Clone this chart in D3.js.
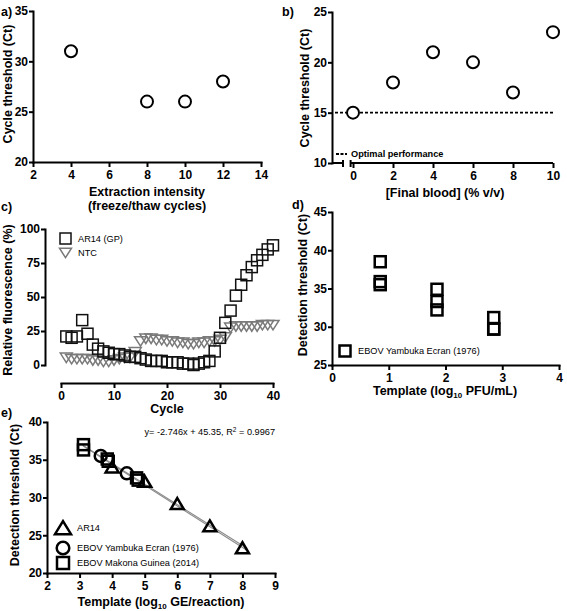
<!DOCTYPE html>
<html><head><meta charset="utf-8">
<script src="https://cdn.jsdelivr.net/npm/d3@7"></script>
<style>
body{margin:0;background:#fff;}
svg{display:block;font-family:"Liberation Sans",Arial,sans-serif;}
.axis path,.axis line{stroke:#000;stroke-width:2;}
.axis text{font-size:12px;font-weight:bold;fill:#000;font-family:"Liberation Sans",Arial,sans-serif;}
.title{font-size:12.5px;font-weight:bold;fill:#000;}
.plabel{font-size:12.5px;font-weight:bold;fill:#000;}
.leg{font-size:9.2px;fill:#000;}
</style></head><body>
<svg id="chart" width="567" height="611"></svg>
<script>
// ---- data ----
// a) extraction intensity
const aX = [4, 8, 10, 12];
const aY = [31, 26, 26, 28];
const aXTicks = [2, 4, 6, 8, 10, 12, 14];
const aYTicks = [20, 25, 30, 35];
// b) final blood
const bX = [0, 2, 4, 6, 8, 10];
const bY = [15, 18, 21, 20, 17, 23];
const bOptimal = 15;
const bXTicks = [0, 2, 4, 6, 8, 10];
const bYTicks = [10, 15, 20, 25];
// c) amplification curves
const cCycles = [1,2,3,4,5,6,7,8,9,10,11,12,13,14,15,16,17,18,19,20,21,22,23,24,25,26,27,28,29,30,31,32,33,34,35,36,37,38,39,40];
const cAR14 = [21,20,21,33,23,15,12,10,9,8,8,7,6,6,5,4,3,3,3,2,2,2,1,1,0,1,2,3,10,20,31,40,51,59,66,72,77,81,85,88];
const cNTC  = [6,5,5,5,5,4,4,3,3,4,5,6,6,10,18,20,20,19,19,18,18,17,17,16,16,17,17,18,18,19,21,28,29,29,29,29,29,30,30,30];
const cXTicks = [0, 10, 20, 30, 40];
const cYTicks = [0, 25, 50, 75, 100];
// d) detection threshold vs PFU
const dX = [0.85, 0.85, 0.85, 1.85, 1.85, 1.85, 2.85, 2.85, 2.85];
const dY = [38.5, 35.9, 35.5, 34.9, 33.3, 32.2, 31.2, 29.7, 29.7];
const dXTicks = [0, 1, 2, 3, 4];
const dYTicks = [25, 30, 35, 40, 45];
// e) standard curve
const eAR14X = [4, 5, 6, 7, 8];
const eAR14Y = [33.9, 32.0, 29.05, 26.1, 23.2];
const eYambX = [3.65, 4.45];
const eYambY = [35.5, 33.2];
const eMakX = [3.12, 3.12, 3.88, 3.85, 4.75, 4.8];
const eMakY = [37.0, 36.3, 34.8, 35.1, 32.6, 32.3];
const eFitSlopes = [-2.746, -2.71];
const eFitIntercepts = [45.35, 45.32];
const eFitRange = [3.1, 8.15];
const eXTicks = [2, 3, 4, 5, 6, 7, 8, 9];
const eYTicks = [20, 25, 30, 35, 40];

const svg = d3.select('#chart');
const fmt = d3.format('d');

function addAxis(axis, tx, ty) {
  const g = svg.append('g').attr('class', 'axis')
    .attr('transform', `translate(${tx},${ty})`).call(axis.tickFormat(fmt));
  g.select('.domain').attr('stroke-linecap', 'square');
  return g;
}
function yTitle(txt, x, y) {
  svg.append('text').attr('class', 'title')
    .attr('transform', `translate(${x},${y}) rotate(-90)`)
    .attr('text-anchor', 'middle').attr('dominant-baseline', 'central').text(txt);
}
function xTitle(txt, x, y) {
  return svg.append('text').attr('class', 'title').attr('x', x).attr('y', y)
    .attr('text-anchor', 'middle').attr('dominant-baseline', 'central').text(txt);
}
function pLabel(txt, x, y) {
  svg.append('text').attr('class', 'plabel').attr('x', x).attr('y', y)
    .attr('dominant-baseline', 'central').text(txt);
}
const triUp = (w, h) => `M0,${-h*0.6}L${w/2},${h*0.4}L${-w/2},${h*0.4}Z`;
const triDown = (w, h) => `M0,${h*0.6}L${w/2},${-h*0.4}L${-w/2},${-h*0.4}Z`;

// ---------- a) ----------
{
  const x = d3.scaleLinear([2, 14], [33, 261]);
  const y = d3.scaleLinear([20, 35], [162, 11]);
  addAxis(d3.axisBottom(x).tickValues(aXTicks).tickSize(5).tickSizeOuter(0), 0, 162);
  addAxis(d3.axisLeft(y).tickValues(aYTicks).tickSize(4).tickPadding(1).tickSizeOuter(0), 33, 0);
  svg.append('g').selectAll('circle').data(aX).join('circle')
    .attr('cx', (d) => x(d)).attr('cy', (d, i) => y(aY[i])).attr('r', 6)
    .attr('fill', '#fff').attr('stroke', '#000').attr('stroke-width', 2);
  xTitle('Extraction intensity', 147, 192);
  xTitle('(freeze/thaw cycles)', 147, 206);
  yTitle('Cycle threshold (Ct)', 8, 84);
  pLabel('a)', 1, 12);
}

// ---------- b) ----------
{
  const x = d3.scaleLinear([0, 10], [353, 553]);
  const y = d3.scaleLinear([10, 25], [163, 12]);
  const xMin = -1.05;
  const gx = addAxis(d3.axisBottom(x).tickValues(bXTicks).tickSize(5).tickSizeOuter(0), 0, 163);
  gx.select('.domain').remove();
  const segs = [[xMin, -0.5], [-0.12, 10]];
  segs.forEach(s => {
    gx.append('line').attr('x1', x(s[0])).attr('x2', x(s[1])).attr('y1', 0).attr('y2', 0)
      .attr('stroke', '#000').attr('stroke-width', 2);
  });
  [-0.5, -0.12].forEach(v => {
    gx.append('line').attr('x1', x(v)).attr('x2', x(v)).attr('y1', -3).attr('y2', 4)
      .attr('stroke', '#000').attr('stroke-width', 2);
  });
  addAxis(d3.axisLeft(y).tickValues(bYTicks).tickSize(4).tickPadding(1).tickSizeOuter(0), x(xMin), 0);
  svg.append('line').attr('x1', x(-0.9)).attr('x2', x(10.1))
    .attr('y1', y(bOptimal)).attr('y2', y(bOptimal))
    .attr('stroke', '#000').attr('stroke-width', 1.8).attr('stroke-dasharray', '3,2');
  svg.append('g').selectAll('circle').data(bX).join('circle')
    .attr('cx', (d) => x(d)).attr('cy', (d, i) => y(bY[i])).attr('r', 6)
    .attr('fill', '#fff').attr('stroke', '#000').attr('stroke-width', 2);
  // legend
  svg.append('line').attr('x1', 336).attr('x2', 347).attr('y1', 154).attr('y2', 154)
    .attr('stroke', '#000').attr('stroke-width', 1.8).attr('stroke-dasharray', '3,1.5');
  svg.append('text').attr('x', 351).attr('y', 154).attr('dominant-baseline', 'central')
    .attr('font-size', '9.2px').attr('font-weight', 'bold').text('Optimal performance');
  xTitle('[Final blood] (% v/v)', 445, 193);
  yTitle('Cycle threshold (Ct)', 305, 88);
  pLabel('b)', 282, 12);
}

// ---------- c) ----------
{
  const x = d3.scaleLinear([0, 40], [61, 273]);
  const y = d3.scaleLinear([0, 100], [365, 229]);
  addAxis(d3.axisBottom(x).tickValues(cXTicks).tickSize(5).tickSizeOuter(0), 0, 383);
  addAxis(d3.axisLeft(y).tickValues(cYTicks).tickSize(4).tickPadding(1).tickSizeOuter(0), 45, 0);
  svg.append('g').selectAll('path').data(cCycles).join('path')
    .attr('transform', (d, i) => `translate(${x(d)},${y(cNTC[i])})`)
    .attr('d', triDown(12, 9.5)).attr('fill', 'none').attr('stroke', '#7a7a7a').attr('stroke-width', 1.5);
  svg.append('g').selectAll('rect').data(cCycles).join('rect')
    .attr('x', (d) => x(d) - 5.5).attr('y', (d, i) => y(cAR14[i]) - 5.5)
    .attr('width', 11).attr('height', 11)
    .attr('fill', 'none').attr('stroke', '#111').attr('stroke-width', 1.5);
  // legend
  svg.append('rect').attr('x', 60).attr('y', 233).attr('width', 11).attr('height', 11)
    .attr('fill', 'none').attr('stroke', '#111').attr('stroke-width', 1.5);
  svg.append('text').attr('class', 'leg').attr('x', 78).attr('y', 238.5).attr('dominant-baseline', 'central').text('AR14 (GP)');
  svg.append('path').attr('transform', 'translate(65.5,252)').attr('d', triDown(12, 9.5))
    .attr('fill', 'none').attr('stroke', '#7a7a7a').attr('stroke-width', 1.5);
  svg.append('text').attr('class', 'leg').attr('x', 78).attr('y', 252.5).attr('dominant-baseline', 'central').text('NTC');
  xTitle('Cycle', 167, 409);
  yTitle('Relative fluorescence (%)', 8, 300);
  pLabel('c)', 1, 207);
}

// ---------- d) ----------
{
  const x = d3.scaleLinear([0, 4], [332, 559]);
  const y = d3.scaleLinear([25, 45], [365, 212]);
  addAxis(d3.axisBottom(x).tickValues(dXTicks).tickSize(5).tickSizeOuter(0), 0, 365);
  addAxis(d3.axisLeft(y).tickValues(dYTicks).tickSize(4).tickPadding(1).tickSizeOuter(0), 332, 0);
  svg.append('g').selectAll('rect').data(dX).join('rect')
    .attr('x', (d) => x(d) - 5.5).attr('y', (d, i) => y(dY[i]) - 5.5)
    .attr('width', 11).attr('height', 11)
    .attr('fill', 'none').attr('stroke', '#000').attr('stroke-width', 2.5);
  svg.append('rect').attr('x', 339.5).attr('y', 345.5).attr('width', 11).attr('height', 11)
    .attr('fill', 'none').attr('stroke', '#000').attr('stroke-width', 2.5);
  svg.append('text').attr('class', 'leg').attr('x', 358).attr('y', 351).attr('dominant-baseline', 'central')
    .text('EBOV Yambuka Ecran (1976)');
  const t = xTitle('', 445, 391);
  t.append('tspan').text('Template (log');
  t.append('tspan').attr('font-size', '8px').attr('dy', 4).text('10');
  t.append('tspan').attr('dy', -4).text(' PFU/mL)');
  yTitle('Detection threshold (Ct)', 303, 285);
  pLabel('d)', 292, 205);
}

// ---------- e) ----------
{
  const x = d3.scaleLinear([2, 9], [47, 275]);
  const y = d3.scaleLinear([20, 40], [573, 422]);
  addAxis(d3.axisBottom(x).tickValues(eXTicks).tickSize(5).tickSizeOuter(0), 0, 573);
  addAxis(d3.axisLeft(y).tickValues(eYTicks).tickSize(4).tickPadding(1).tickSizeOuter(0), 47, 0);
  // regression lines
  eFitSlopes.forEach((m, k) => {
    const b = eFitIntercepts[k];
    svg.append('line')
      .attr('x1', x(eFitRange[0])).attr('y1', y(m * eFitRange[0] + b))
      .attr('x2', x(eFitRange[1])).attr('y2', y(m * eFitRange[1] + b))
      .attr('stroke', '#8a8a8a').attr('stroke-width', 1.1);
  });
  svg.append('g').selectAll('rect').data(eMakX).join('rect')
    .attr('x', (d) => x(d) - 5.5).attr('y', (d, i) => y(eMakY[i]) - 5.5)
    .attr('width', 11).attr('height', 11)
    .attr('fill', 'none').attr('stroke', '#000').attr('stroke-width', 2.5);
  svg.append('g').selectAll('circle').data(eYambX).join('circle')
    .attr('cx', (d) => x(d)).attr('cy', (d, i) => y(eYambY[i])).attr('r', 6)
    .attr('fill', 'none').attr('stroke', '#000').attr('stroke-width', 2.5);
  svg.append('g').selectAll('path').data(eAR14X).join('path')
    .attr('transform', (d, i) => `translate(${x(d)},${y(eAR14Y[i])})`)
    .attr('d', triUp(13, 11)).attr('fill', 'none').attr('stroke', '#000').attr('stroke-width', 2.5)
    .attr('stroke-linejoin', 'miter');
  // equation
  const eq = svg.append('text').attr('class', 'leg').attr('x', 275).attr('y', 432)
    .attr('text-anchor', 'end').attr('dominant-baseline', 'central');
  eq.append('tspan').text('y= -2.746x + 45.35, R');
  eq.append('tspan').attr('font-size', '6.5px').attr('dy', -3).text('2');
  eq.append('tspan').attr('dy', 3).text(' = 0.9967');
  // legend
  svg.append('path').attr('transform', 'translate(63,529)').attr('d', triUp(16, 13))
    .attr('fill', 'none').attr('stroke', '#000').attr('stroke-width', 2.5);
  svg.append('text').attr('class', 'leg').attr('x', 77).attr('y', 528).attr('dominant-baseline', 'central').text('AR14');
  svg.append('circle').attr('cx', 63).attr('cy', 548).attr('r', 6.3)
    .attr('fill', 'none').attr('stroke', '#000').attr('stroke-width', 2.5);
  svg.append('text').attr('class', 'leg').attr('x', 77).attr('y', 548).attr('dominant-baseline', 'central').text('EBOV Yambuka Ecran (1976)');
  svg.append('rect').attr('x', 57).attr('y', 557).attr('width', 12).attr('height', 12)
    .attr('fill', 'none').attr('stroke', '#000').attr('stroke-width', 2.5);
  svg.append('text').attr('class', 'leg').attr('x', 77).attr('y', 563).attr('dominant-baseline', 'central').text('EBOV Makona Guinea (2014)');
  const t = xTitle('', 161, 602);
  t.append('tspan').text('Template (log');
  t.append('tspan').attr('font-size', '8px').attr('dy', 4).text('10');
  t.append('tspan').attr('dy', -4).text(' GE/reaction)');
  yTitle('Detection threshold (Ct)', 15, 495);
  pLabel('e)', 1, 413);
}
</script>
</body></html>
